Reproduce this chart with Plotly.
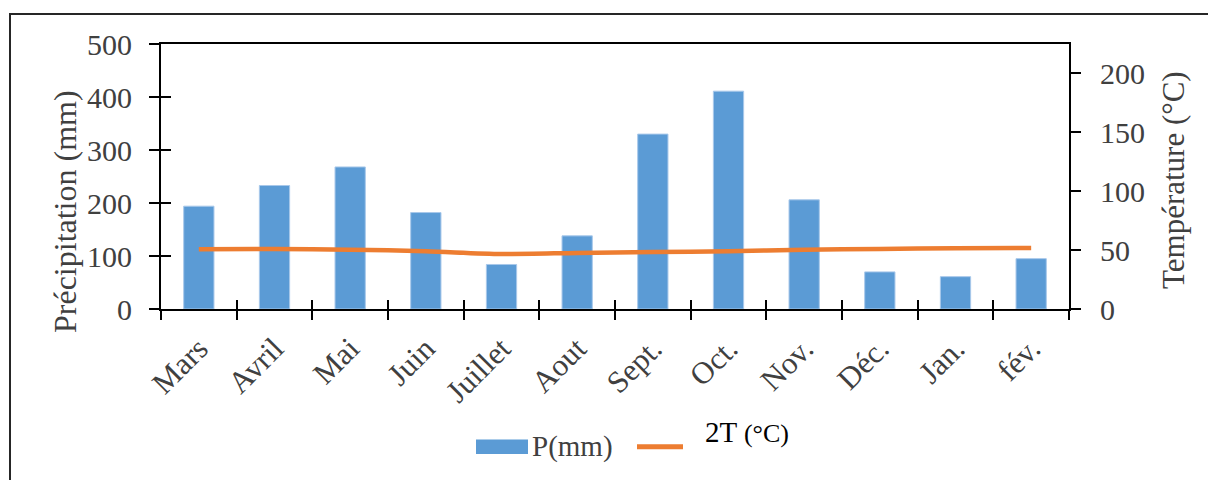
import plotly.graph_objects as go

# Monthly climate data
months = ["Mars", "Avril", "Mai", "Juin", "Juillet", "Aout",
          "Sept.", "Oct.", "Nov.", "Déc.", "Jan.", "fév."]
precip_mm = [194, 233, 268, 182, 84, 138, 330, 411, 206, 70, 61, 95]
temp_2t = [50.7, 51.0, 50.4, 49.0, 46.7, 47.6, 48.4, 49.0, 50.4, 51.0, 51.5, 51.8]

left_ticks = [0, 100, 200, 300, 400, 500]
right_ticks = [0, 50, 100, 150, 200]

FONT = "Times New Roman, Liberation Serif, serif"
GREY = "#404040"
BLUE = "#5B9BD5"
ORANGE = "#ED7D31"

W, H = 1208, 480
ML, MR, MT, MB = 161, 139, 44, 171
PW, PH = W - ML - MR, H - MT - MB


def px(x):
    return (x - ML) / PW


def py(y):
    return (H - MB - y) / PH


fig = go.Figure()

fig.add_trace(go.Bar(
    x=months, y=precip_mm, name="P(mm)",
    marker=dict(color=BLUE, line=dict(color="#A8C8EA", width=1)),
    yaxis="y", showlegend=False,
))

fig.add_trace(go.Scatter(
    x=months, y=temp_2t, name="2T (°C)", mode="lines",
    line=dict(color=ORANGE, width=4.5, shape="spline", smoothing=0.8),
    yaxis="y2", showlegend=False,
))

# carrier for the inner half of the crossing tick marks
fig.add_trace(go.Scatter(
    x=months, y=precip_mm, mode="none", xaxis="x2", yaxis="y3",
    hoverinfo="skip", showlegend=False,
))

tickfont = dict(family=FONT, size=30, color=GREY)

fig.update_layout(
    width=W, height=H,
    margin=dict(l=ML, r=MR, t=MT, b=MB),
    paper_bgcolor="white", plot_bgcolor="white",
    bargap=0.6,
    xaxis=dict(
        type="category", categoryorder="array", categoryarray=months,
        range=[-0.5, 11.5], tickson="boundaries",
        ticks="outside", ticklen=9, tickwidth=2, tickcolor="black",
        showline=True, linecolor="black", linewidth=2, mirror=True,
        tickangle=-45, tickfont=dict(family=FONT, size=31, color=GREY),
        ticklabelstandoff=7,
        showgrid=False, zeroline=False,
    ),
    xaxis2=dict(
        type="category", categoryorder="array", categoryarray=months,
        range=[-0.5, 11.5], tickson="boundaries", overlaying="x",
        anchor="y3", ticks="inside", ticklen=9, tickwidth=2, tickcolor="black",
        showticklabels=False, showline=False, showgrid=False, zeroline=False,
    ),
    yaxis=dict(
        range=[0, 500], tickvals=left_ticks,
        ticks="outside", ticklen=10, tickwidth=2, tickcolor="black",
        showline=True, linecolor="black", linewidth=2,
        tickfont=tickfont, ticklabelstandoff=11,
        showgrid=False, zeroline=False,
    ),
    yaxis3=dict(
        range=[0, 500], tickvals=left_ticks, overlaying="y", anchor="x2",
        ticks="inside", ticklen=10, tickwidth=2, tickcolor="black",
        showticklabels=False, showline=False, showgrid=False, zeroline=False,
    ),
    yaxis2=dict(
        range=[0, 225], tickvals=right_ticks, overlaying="y", side="right", anchor="x",
        ticks="outside", ticklen=10, tickwidth=2, tickcolor="black",
        showline=True, linecolor="black", linewidth=2,
        tickfont=tickfont, ticklabelstandoff=13,
        showgrid=False, zeroline=False,
    ),
    yaxis4=dict(
        range=[0, 225], tickvals=right_ticks, overlaying="y", side="right", anchor="x",
        ticks="inside", ticklen=10, tickwidth=2, tickcolor="black",
        showticklabels=False, showline=False, showgrid=False, zeroline=False,
    ),
    showlegend=False,
)

# axis titles
fig.add_annotation(xref="paper", yref="paper", x=px(65), y=py(212),
                   xanchor="center", yanchor="middle", showarrow=False, textangle=-90,
                   text="Précipitation (mm)", font=dict(family=FONT, size=32, color=GREY))
fig.add_annotation(xref="paper", yref="paper", x=px(1173), y=py(180),
                   xanchor="center", yanchor="middle", showarrow=False, textangle=-90,
                   text="Température (°C)", font=dict(family=FONT, size=31, color=GREY))

# outer frame of the chart
fig.add_shape(type="rect", xref="paper", yref="paper",
              x0=px(10), x1=px(1400), y0=py(600), y1=py(14),
              line=dict(color="#262626", width=2), layer="above")

# legend keys and labels
fig.add_shape(type="rect", xref="paper", yref="paper",
              x0=px(476), x1=px(528), y0=py(454), y1=py(439.5),
              fillcolor=BLUE, line=dict(width=0))
fig.add_annotation(xref="paper", yref="paper", x=px(530), y=py(447),
                   xanchor="left", yanchor="middle", showarrow=False,
                   text="P(mm)", font=dict(family=FONT, size=29, color=GREY))
fig.add_shape(type="line", xref="paper", yref="paper",
              x0=px(637), x1=px(683), y0=py(446.7), y1=py(446.7),
              line=dict(color=ORANGE, width=5))
fig.add_annotation(xref="paper", yref="paper", x=px(703), y=py(432),
                   xanchor="left", yanchor="middle", showarrow=False,
                   text="2T <span style='font-size:26px'>(°C)</span>",
                   font=dict(family=FONT, size=29, color="black"))

fig.write_html("out.html")
